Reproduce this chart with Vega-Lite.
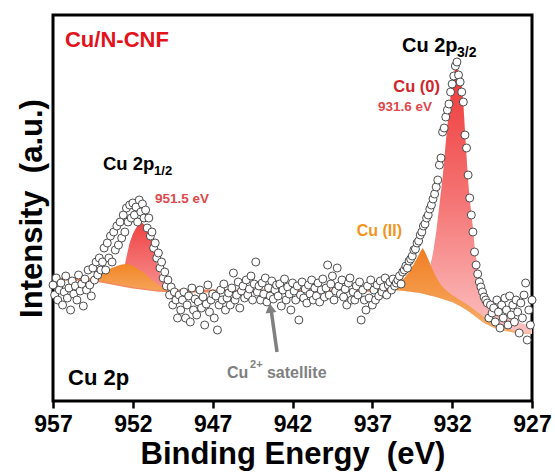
{
  "$schema": "https://vega.github.io/schema/vega-lite/v6.json",
  "width": 479,
  "height": 386,
  "autosize": {"type": "none"},
  "padding": {"left": 53, "top": 15, "right": 23, "bottom": 72},
  "background": "white",
  "config": {
    "view": {"stroke": "black", "strokeWidth": 3},
    "font": "Liberation Sans"
  },
  "datasets": {
    "pts": [
      {"e":957.0,"i":116},{"e":956.9,"i":106},{"e":956.8,"i":123},{"e":956.7,"i":101},{"e":956.6,"i":111},{"e":956.5,"i":118},{"e":956.4,"i":96},{"e":956.3,"i":109},{"e":956.2,"i":125},{"e":956.1,"i":103},
      {"e":956.0,"i":113},{"e":955.9,"i":91},{"e":955.8,"i":120},{"e":955.7,"i":107},{"e":955.6,"i":115},{"e":955.5,"i":101},{"e":955.4,"i":126},{"e":955.3,"i":110},{"e":955.2,"i":117},{"e":955.1,"i":95},
      {"e":955.0,"i":122},{"e":954.9,"i":111},{"e":954.8,"i":131},{"e":954.7,"i":116},{"e":954.6,"i":105},{"e":954.5,"i":133},{"e":954.4,"i":121},{"e":954.3,"i":139},{"e":954.2,"i":126},{"e":954.1,"i":143},
      {"e":954.0,"i":131},{"e":953.9,"i":139},{"e":953.8,"i":153},{"e":953.7,"i":131},{"e":953.6,"i":158},{"e":953.5,"i":143},{"e":953.4,"i":165},{"e":953.3,"i":139},{"e":953.2,"i":169},{"e":953.1,"i":151},
      {"e":953.0,"i":175},{"e":952.9,"i":156},{"e":952.8,"i":179},{"e":952.7,"i":163},{"e":952.6,"i":186},{"e":952.5,"i":169},{"e":952.4,"i":193},{"e":952.3,"i":179},{"e":952.2,"i":196},{"e":952.1,"i":183},
      {"e":952.0,"i":198},{"e":951.9,"i":186},{"e":951.8,"i":194},{"e":951.7,"i":179},{"e":951.6,"i":201},{"e":951.5,"i":189},{"e":951.4,"i":197},{"e":951.3,"i":183},{"e":951.2,"i":191},{"e":951.1,"i":173},
      {"e":951.0,"i":183},{"e":950.9,"i":165},{"e":950.8,"i":169},{"e":950.7,"i":153},{"e":950.6,"i":158},{"e":950.5,"i":143},{"e":950.4,"i":148},{"e":950.3,"i":133},{"e":950.2,"i":139},{"e":950.1,"i":123},
      {"e":950.0,"i":129},{"e":949.9,"i":115},{"e":949.8,"i":121},{"e":949.7,"i":106},{"e":949.6,"i":114},{"e":949.5,"i":96},{"e":949.4,"i":109},{"e":949.3,"i":101},{"e":949.2,"i":83},{"e":949.1,"i":106},
      {"e":949.0,"i":91},{"e":948.9,"i":101},{"e":948.8,"i":109},{"e":948.7,"i":83},{"e":948.6,"i":96},{"e":948.5,"i":105},{"e":948.4,"i":79},{"e":948.3,"i":113},{"e":948.2,"i":91},{"e":948.1,"i":102},
      {"e":948.0,"i":86},{"e":947.9,"i":99},{"e":947.8,"i":111},{"e":947.7,"i":93},{"e":947.6,"i":104},{"e":947.5,"i":76},{"e":947.4,"i":97},{"e":947.3,"i":116},{"e":947.2,"i":89},{"e":947.1,"i":101},
      {"e":947.0,"i":107},{"e":946.9,"i":83},{"e":946.8,"i":105},{"e":946.7,"i":71},{"e":946.6,"i":96},{"e":946.5,"i":111},{"e":946.4,"i":101},{"e":946.3,"i":117},{"e":946.2,"i":91},{"e":946.1,"i":103},
      {"e":946.0,"i":108},{"e":945.9,"i":96},{"e":945.8,"i":113},{"e":945.7,"i":128},{"e":945.6,"i":101},{"e":945.5,"i":106},{"e":945.4,"i":119},{"e":945.3,"i":93},{"e":945.2,"i":110},{"e":945.1,"i":115},
      {"e":945.0,"i":103},{"e":944.9,"i":121},{"e":944.8,"i":106},{"e":944.7,"i":112},{"e":944.6,"i":125},{"e":944.5,"i":101},{"e":944.4,"i":117},{"e":944.3,"i":139},{"e":944.2,"i":109},{"e":944.1,"i":115},
      {"e":944.0,"i":101},{"e":943.9,"i":118},{"e":943.8,"i":107},{"e":943.7,"i":123},{"e":943.6,"i":99},{"e":943.5,"i":113},{"e":943.4,"i":105},{"e":943.3,"i":120},{"e":943.2,"i":102},{"e":943.1,"i":111},
      {"e":943.0,"i":116},{"e":942.9,"i":105},{"e":942.8,"i":117},{"e":942.7,"i":95},{"e":942.6,"i":111},{"e":942.5,"i":122},{"e":942.4,"i":101},{"e":942.3,"i":114},{"e":942.2,"i":107},{"e":942.1,"i":91},
      {"e":942.0,"i":118},{"e":941.9,"i":110},{"e":941.8,"i":101},{"e":941.7,"i":115},{"e":941.6,"i":81},{"e":941.5,"i":106},{"e":941.4,"i":119},{"e":941.3,"i":103},{"e":941.2,"i":112},{"e":941.1,"i":98},
      {"e":941.0,"i":116},{"e":940.9,"i":107},{"e":940.8,"i":121},{"e":940.7,"i":101},{"e":940.6,"i":113},{"e":940.5,"i":105},{"e":940.4,"i":118},{"e":940.3,"i":99},{"e":940.2,"i":111},{"e":940.1,"i":122},
      {"e":940.0,"i":104},{"e":939.9,"i":113},{"e":939.8,"i":136},{"e":939.7,"i":106},{"e":939.6,"i":117},{"e":939.5,"i":125},{"e":939.4,"i":101},{"e":939.3,"i":110},{"e":939.2,"i":133},{"e":939.1,"i":115},
      {"e":939.0,"i":107},{"e":938.9,"i":121},{"e":938.8,"i":104},{"e":938.7,"i":112},{"e":938.6,"i":96},{"e":938.5,"i":118},{"e":938.4,"i":123},{"e":938.3,"i":101},{"e":938.2,"i":109},{"e":938.1,"i":101},
      {"e":938.0,"i":115},{"e":937.9,"i":106},{"e":937.8,"i":119},{"e":937.7,"i":81},{"e":937.6,"i":111},{"e":937.5,"i":101},{"e":937.4,"i":91},{"e":937.3,"i":115},{"e":937.2,"i":103},{"e":937.1,"i":121},
      {"e":937.0,"i":96},{"e":936.9,"i":111},{"e":936.8,"i":101},{"e":936.7,"i":116},{"e":936.6,"i":105},{"e":936.5,"i":120},{"e":936.4,"i":109},{"e":936.3,"i":114},{"e":936.2,"i":123},{"e":936.1,"i":106},
      {"e":936.0,"i":116},{"e":935.9,"i":119},{"e":935.8,"i":111},{"e":935.7,"i":122},{"e":935.6,"i":115},{"e":935.5,"i":118},{"e":935.4,"i":121},{"e":935.3,"i":125},{"e":935.2,"i":117},{"e":935.1,"i":129},
      {"e":935.0,"i":131},{"e":934.9,"i":135},{"e":934.8,"i":133},{"e":934.7,"i":140},{"e":934.6,"i":142},{"e":934.5,"i":145},{"e":934.4,"i":151},{"e":934.3,"i":152},{"e":934.2,"i":158},{"e":934.1,"i":160},
      {"e":934.0,"i":166},{"e":933.9,"i":169},{"e":933.8,"i":175},{"e":933.7,"i":177},{"e":933.6,"i":183},{"e":933.5,"i":186},{"e":933.4,"i":192},{"e":933.3,"i":196},{"e":933.2,"i":202},{"e":933.1,"i":207},
      {"e":933.0,"i":214},{"e":932.9,"i":221},{"e":932.8,"i":236},{"e":932.7,"i":243},{"e":932.6,"i":269},{"e":932.5,"i":273},{"e":932.4,"i":284},{"e":932.3,"i":291},{"e":932.2,"i":297},{"e":932.1,"i":309},
      {"e":932.0,"i":317},{"e":931.9,"i":325},{"e":931.8,"i":335},{"e":931.7,"i":339},{"e":931.6,"i":326},{"e":931.5,"i":319},{"e":931.4,"i":309},{"e":931.3,"i":299},{"e":931.2,"i":266},{"e":931.1,"i":253},
      {"e":931.0,"i":226},{"e":930.9,"i":203},{"e":930.8,"i":186},{"e":930.7,"i":169},{"e":930.6,"i":149},{"e":930.5,"i":136},{"e":930.4,"i":127},{"e":930.3,"i":119},{"e":930.2,"i":114},{"e":930.1,"i":109},
      {"e":930.0,"i":104},{"e":929.9,"i":101},{"e":929.8,"i":98},{"e":929.7,"i":83},{"e":929.6,"i":96},{"e":929.5,"i":88},{"e":929.4,"i":93},{"e":929.3,"i":79},{"e":929.2,"i":101},{"e":929.1,"i":89},
      {"e":929.0,"i":73},{"e":928.9,"i":96},{"e":928.8,"i":83},{"e":928.7,"i":103},{"e":928.6,"i":91},{"e":928.5,"i":76},{"e":928.4,"i":105},{"e":928.3,"i":86},{"e":928.2,"i":96},{"e":928.1,"i":79},
      {"e":928.0,"i":101},{"e":927.9,"i":89},{"e":927.8,"i":68},{"e":927.7,"i":98},{"e":927.6,"i":83},{"e":927.5,"i":106},{"e":927.4,"i":118},{"e":927.3,"i":61},{"e":927.2,"i":91},{"e":927.1,"i":76},
      {"e":927.0,"i":101}
    ],
    "fit": [
      {"c":"r3","e":934.6,"t":114.5,"b":109.2},{"c":"r3","e":934.2,"t":116,"b":108.4},{"c":"r3","e":934.0,"t":117,"b":108},{"c":"r3","e":933.6,"t":121,"b":106.4},{"c":"r3","e":933.4,"t":133,"b":105.6},
      {"c":"r3","e":933.2,"t":148,"b":104.8},{"c":"r3","e":933.0,"t":169,"b":104},{"c":"r3","e":932.8,"t":196,"b":103},{"c":"r3","e":932.6,"t":223,"b":102},{"c":"r3","e":932.4,"t":259,"b":101},
      {"c":"r3","e":932.2,"t":291,"b":100},{"c":"r3","e":932.0,"t":318,"b":99},{"c":"r3","e":931.9,"t":327,"b":98.2},{"c":"r3","e":931.8,"t":333,"b":97.4},{"c":"r3","e":931.7,"t":334,"b":96.6},
      {"c":"r3","e":931.6,"t":330,"b":95.8},{"c":"r3","e":931.5,"t":323,"b":95},{"c":"r3","e":931.4,"t":315,"b":94},{"c":"r3","e":931.3,"t":298,"b":93},{"c":"r3","e":931.2,"t":271,"b":92},
      {"c":"r3","e":931.1,"t":245,"b":91},{"c":"r3","e":931.0,"t":220,"b":90},{"c":"r3","e":930.9,"t":202,"b":88.8},{"c":"r3","e":930.8,"t":188,"b":87.6},{"c":"r3","e":930.7,"t":173,"b":86.4},
      {"c":"r3","e":930.6,"t":155,"b":85.2},{"c":"r3","e":930.5,"t":143,"b":84},{"c":"r3","e":930.4,"t":133,"b":82.8},{"c":"r3","e":930.3,"t":123,"b":81.6},{"c":"r3","e":930.2,"t":116,"b":80.4},
      {"c":"r3","e":930.0,"t":107,"b":78},{"c":"r3","e":929.8,"t":101,"b":76.4},{"c":"r3","e":929.6,"t":95,"b":74.8},{"c":"r3","e":929.2,"t":89,"b":72.2},{"c":"r3","e":928.8,"t":85,"b":70.4},
      {"c":"r3","e":928.4,"t":82,"b":69.2},{"c":"r3","e":928.0,"t":79,"b":68},{"c":"r3","e":927.5,"t":77,"b":67.5},{"c":"r3","e":927.0,"t":75,"b":67},
      {"c":"o3","e":935.9,"t":111,"b":111},{"c":"o3","e":935.6,"t":114,"b":110.8},{"c":"o3","e":935.4,"t":117,"b":110.5},{"c":"o3","e":935.2,"t":120,"b":110.3},{"c":"o3","e":935.0,"t":123,"b":110},
      {"c":"o3","e":934.8,"t":127,"b":109.6},{"c":"o3","e":934.6,"t":132,"b":109.2},{"c":"o3","e":934.4,"t":137,"b":108.8},{"c":"o3","e":934.2,"t":143,"b":108.4},{"c":"o3","e":934.0,"t":149,"b":108},
      {"c":"o3","e":933.85,"t":153,"b":107.4},{"c":"o3","e":933.7,"t":149,"b":106.8},{"c":"o3","e":933.5,"t":142,"b":106},{"c":"o3","e":933.3,"t":134,"b":105.2},{"c":"o3","e":933.1,"t":127,"b":104.4},
      {"c":"o3","e":932.9,"t":121,"b":103.5},{"c":"o3","e":932.7,"t":116,"b":102.5},{"c":"o3","e":932.4,"t":111,"b":101},{"c":"o3","e":932.0,"t":106,"b":99},{"c":"o3","e":931.5,"t":101,"b":95},
      {"c":"o3","e":931.0,"t":96,"b":90},{"c":"o3","e":930.5,"t":90,"b":84},{"c":"o3","e":930.0,"t":84,"b":78},{"c":"o3","e":929.5,"t":79,"b":74},{"c":"o3","e":929.0,"t":75,"b":71},
      {"c":"o3","e":928.5,"t":72,"b":69.5},{"c":"o3","e":928.0,"t":70,"b":68},{"c":"o3","e":927.5,"t":68.5,"b":67.5},{"c":"o3","e":927.0,"t":67.5,"b":67},
      {"c":"r1","e":953.0,"t":117,"b":117},{"c":"r1","e":952.8,"t":118,"b":116.4},{"c":"r1","e":952.6,"t":129,"b":115.8},{"c":"r1","e":952.4,"t":144,"b":115.2},{"c":"r1","e":952.2,"t":158,"b":114.6},
      {"c":"r1","e":952.0,"t":167,"b":114},{"c":"r1","e":951.8,"t":173,"b":113.6},{"c":"r1","e":951.6,"t":177,"b":113.2},{"c":"r1","e":951.5,"t":179,"b":113},{"c":"r1","e":951.4,"t":178,"b":112.8},
      {"c":"r1","e":951.2,"t":175,"b":112.4},{"c":"r1","e":951.0,"t":169,"b":112},{"c":"r1","e":950.8,"t":160,"b":111.6},{"c":"r1","e":950.6,"t":145,"b":111.2},{"c":"r1","e":950.4,"t":132,"b":110.9},
      {"c":"r1","e":950.2,"t":123,"b":110.7},{"c":"r1","e":950.0,"t":117,"b":110.5},{"c":"r1","e":949.8,"t":113.5,"b":110.4},{"c":"r1","e":949.5,"t":111.5,"b":110.25},{"c":"r1","e":949.0,"t":110.3,"b":110},
      {"c":"o1","e":955.0,"t":121.5,"b":121.5},{"c":"o1","e":954.6,"t":122.5,"b":121.1},{"c":"o1","e":954.2,"t":126,"b":120.4},{"c":"o1","e":953.8,"t":129.5,"b":119.4},{"c":"o1","e":953.4,"t":132.5,"b":118.2},
      {"c":"o1","e":953.0,"t":135,"b":117},{"c":"o1","e":952.7,"t":136.5,"b":116.1},{"c":"o1","e":952.4,"t":137,"b":115.2},{"c":"o1","e":952.1,"t":136,"b":114.3},{"c":"o1","e":951.8,"t":133.5,"b":113.6},
      {"c":"o1","e":951.5,"t":130.5,"b":113},{"c":"o1","e":951.2,"t":127,"b":112.4},{"c":"o1","e":950.9,"t":122.5,"b":111.8},{"c":"o1","e":950.6,"t":118.5,"b":111.2},{"c":"o1","e":950.3,"t":115,"b":110.8},
      {"c":"o1","e":950.0,"t":112.5,"b":110.5},{"c":"o1","e":949.6,"t":111,"b":110.3},{"c":"o1","e":949.2,"t":110.2,"b":110.1},{"c":"o1","e":948.9,"t":110,"b":110}
    ],
    "bg": [
      {"e":957,"b":122},{"e":956,"b":122},{"e":955,"b":121.5},{"e":954.5,"b":121},{"e":954,"b":120},{"e":953.5,"b":118.5},{"e":953,"b":117},{"e":952.5,"b":115.5},{"e":952,"b":114},{"e":951.5,"b":113},
      {"e":951,"b":112},{"e":950.5,"b":111},{"e":950,"b":110.5},{"e":949,"b":110},{"e":945,"b":110},{"e":940,"b":110},{"e":938,"b":110.5},{"e":936,"b":111},{"e":935.8,"b":111}
    ]
  },
  "layer": [
    {
      "data": {"name": "bg"},
      "mark": {"type": "line", "color": "#f28a5e", "strokeWidth": 3},
      "encoding": {
        "x": {"field": "e", "type": "quantitative"},
        "y": {"field": "b", "type": "quantitative"}
      }
    },
    {
      "data": {"name": "fit"},
      "transform": [{"filter": "datum.c == 'r3'"}],
      "mark": {"type": "area", "opacity": 1, "fill": {"gradient": "linear", "x1": 0, "y1": 0, "x2": 0, "y2": 1, "stops": [{"offset": 0, "color": "#ee3838"}, {"offset": 0.5, "color": "#f57474"}, {"offset": 1, "color": "#fcc2c2"}]}},
      "encoding": {
        "x": {"field": "e", "type": "quantitative"},
        "y": {"field": "t", "type": "quantitative"},
        "y2": {"field": "b"}
      }
    },
    {
      "data": {"name": "fit"},
      "transform": [{"filter": "datum.c == 'r1'"}],
      "mark": {"type": "area", "opacity": 1, "fill": {"gradient": "linear", "x1": 0, "y1": 0, "x2": 0, "y2": 1, "stops": [{"offset": 0, "color": "#ef4242"}, {"offset": 1, "color": "#f89090"}]}},
      "encoding": {
        "x": {"field": "e", "type": "quantitative"},
        "y": {"field": "t", "type": "quantitative"},
        "y2": {"field": "b"}
      }
    },
    {
      "data": {"name": "fit"},
      "transform": [{"filter": "datum.c == 'o3'"}],
      "mark": {"type": "area", "opacity": 1, "fill": {"gradient": "linear", "x1": 0, "y1": 0, "x2": 0, "y2": 1, "stops": [{"offset": 0, "color": "#f07e22"}, {"offset": 1, "color": "#f8b06c"}]}},
      "encoding": {
        "x": {"field": "e", "type": "quantitative"},
        "y": {"field": "t", "type": "quantitative"},
        "y2": {"field": "b"}
      }
    },
    {
      "data": {"name": "fit"},
      "transform": [{"filter": "datum.c == 'o1'"}],
      "mark": {"type": "area", "opacity": 1, "fill": {"gradient": "linear", "x1": 0, "y1": 0, "x2": 0, "y2": 1, "stops": [{"offset": 0, "color": "#f28626"}, {"offset": 1, "color": "#f6a45a"}]}},
      "encoding": {
        "x": {"field": "e", "type": "quantitative"},
        "y": {"field": "t", "type": "quantitative"},
        "y2": {"field": "b"}
      }
    },
    {
      "data": {"name": "pts"},
      "mark": {"type": "point", "shape": "circle", "filled": false, "fill": "white", "fillOpacity": 1, "stroke": "#3a3a3a", "strokeWidth": 0.9, "opacity": 1, "size": 64},
      "encoding": {
        "x": {
          "field": "e", "type": "quantitative",
          "scale": {"domain": [957, 927], "nice": false, "zero": false},
          "axis": {
            "values": [957, 954.5, 952, 949.5, 947, 944.5, 942, 939.5, 937, 934.5, 932, 929.5, 927],
            "labelExpr": "datum.value % 5 == 2 ? datum.label : ''",
            "tickSize": {"condition": {"test": "datum.value % 5 == 2", "value": 7}, "value": 4},
            "tickWidth": 2.5, "tickColor": "black", "domain": false, "grid": false,
            "labelFont": "Liberation Sans", "labelFontWeight": "bold", "labelFontSize": 23, "labelColor": "black",
            "labelPadding": 5, "labelFlush": false, "labelOverlap": false,
            "title": "Binding Energy\u00a0 (eV)", "titleFont": "Liberation Sans", "titleFontWeight": "bold", "titleFontSize": 31, "titleColor": "black", "titlePadding": 3
          }
        },
        "y": {
          "field": "i", "type": "quantitative",
          "scale": {"domain": [0, 386], "nice": false, "zero": false},
          "axis": {
            "labels": false, "ticks": false, "domain": false, "grid": false,
            "title": "Intensity\u00a0 (a.u.)", "titleFont": "Liberation Sans", "titleFontWeight": "bold", "titleFontSize": 31, "titleColor": "black", "titlePadding": 5
          }
        }
      }
    },
    {
      "data": {"values": [{}]},
      "mark": {"type": "text", "text": "Cu/N-CNF", "font": "Liberation Sans", "fontWeight": "bold", "fontSize": 22, "color": "#e3121b", "align": "left", "baseline": "middle"},
      "encoding": {"x": {"datum": 956.25, "type": "quantitative"}, "y": {"datum": 361, "type": "quantitative"}}
    },
    {
      "data": {"values": [{}]},
      "mark": {"type": "text", "text": "Cu 2p", "font": "Liberation Sans", "fontWeight": "bold", "fontSize": 20, "color": "black", "align": "left", "baseline": "middle"},
      "encoding": {"x": {"datum": 935.14, "type": "quantitative"}, "y": {"datum": 355, "type": "quantitative"}}
    },
    {
      "data": {"values": [{}]},
      "mark": {"type": "text", "text": "3/2", "font": "Liberation Sans", "fontWeight": "bold", "fontSize": 14, "color": "black", "align": "left", "baseline": "middle"},
      "encoding": {"x": {"datum": 931.7, "type": "quantitative"}, "y": {"datum": 348, "type": "quantitative"}}
    },
    {
      "data": {"values": [{}]},
      "mark": {"type": "text", "text": "Cu (0)", "font": "Liberation Sans", "fontWeight": "bold", "fontSize": 16.5, "color": "#d0262b", "align": "right", "baseline": "middle"},
      "encoding": {"x": {"datum": 932.76, "type": "quantitative"}, "y": {"datum": 314, "type": "quantitative"}}
    },
    {
      "data": {"values": [{}]},
      "mark": {"type": "text", "text": "931.6 eV", "font": "Liberation Sans", "fontWeight": "bold", "fontSize": 13.5, "color": "#e0484c", "align": "right", "baseline": "middle"},
      "encoding": {"x": {"datum": 933.26, "type": "quantitative"}, "y": {"datum": 294, "type": "quantitative"}}
    },
    {
      "data": {"values": [{}]},
      "mark": {"type": "text", "text": "Cu 2p", "font": "Liberation Sans", "fontWeight": "bold", "fontSize": 18.5, "color": "black", "align": "left", "baseline": "middle"},
      "encoding": {"x": {"datum": 953.87, "type": "quantitative"}, "y": {"datum": 237, "type": "quantitative"}}
    },
    {
      "data": {"values": [{}]},
      "mark": {"type": "text", "text": "1/2", "font": "Liberation Sans", "fontWeight": "bold", "fontSize": 13, "color": "black", "align": "left", "baseline": "middle"},
      "encoding": {"x": {"datum": 950.67, "type": "quantitative"}, "y": {"datum": 230, "type": "quantitative"}}
    },
    {
      "data": {"values": [{}]},
      "mark": {"type": "text", "text": "951.5 eV", "font": "Liberation Sans", "fontWeight": "bold", "fontSize": 13.5, "color": "#e0484c", "align": "left", "baseline": "middle"},
      "encoding": {"x": {"datum": 950.61, "type": "quantitative"}, "y": {"datum": 202, "type": "quantitative"}}
    },
    {
      "data": {"values": [{}]},
      "mark": {"type": "text", "text": "Cu (II)", "font": "Liberation Sans", "fontWeight": "bold", "fontSize": 16, "color": "#f0951f", "align": "right", "baseline": "middle"},
      "encoding": {"x": {"datum": 935.14, "type": "quantitative"}, "y": {"datum": 170, "type": "quantitative"}}
    },
    {
      "data": {"values": [{}]},
      "mark": {"type": "text", "text": "Cu 2p", "font": "Liberation Sans", "fontWeight": "bold", "fontSize": 22, "color": "black", "align": "left", "baseline": "middle"},
      "encoding": {"x": {"datum": 956.06, "type": "quantitative"}, "y": {"datum": 23, "type": "quantitative"}}
    },
    {
      "data": {"values": [{}]},
      "mark": {"type": "text", "text": "Cu", "font": "Liberation Sans", "fontWeight": "bold", "fontSize": 16, "color": "#808080", "align": "left", "baseline": "middle"},
      "encoding": {"x": {"datum": 946.1, "type": "quantitative"}, "y": {"datum": 28, "type": "quantitative"}}
    },
    {
      "data": {"values": [{}]},
      "mark": {"type": "text", "text": "2+", "font": "Liberation Sans", "fontWeight": "bold", "fontSize": 11, "color": "#808080", "align": "left", "baseline": "middle"},
      "encoding": {"x": {"datum": 944.66, "type": "quantitative"}, "y": {"datum": 36, "type": "quantitative"}}
    },
    {
      "data": {"values": [{}]},
      "mark": {"type": "text", "text": "satellite", "font": "Liberation Sans", "fontWeight": "bold", "fontSize": 16, "color": "#808080", "align": "left", "baseline": "middle"},
      "encoding": {"x": {"datum": 943.6, "type": "quantitative"}, "y": {"datum": 28, "type": "quantitative"}}
    },
    {
      "data": {"values": [{}]},
      "mark": {"type": "rule", "color": "#808080", "strokeWidth": 3.5},
      "encoding": {
        "x": {"datum": 942.97, "type": "quantitative"}, "y": {"datum": 49, "type": "quantitative"},
        "x2": {"datum": 943.32}, "y2": {"datum": 89}
      }
    },
    {
      "data": {"values": [{}]},
      "mark": {"type": "point", "shape": "triangle-up", "filled": true, "color": "#808080", "opacity": 1, "size": 120, "angle": -8},
      "encoding": {"x": {"datum": 943.39, "type": "quantitative"}, "y": {"datum": 93, "type": "quantitative"}}
    }
  ]
}
